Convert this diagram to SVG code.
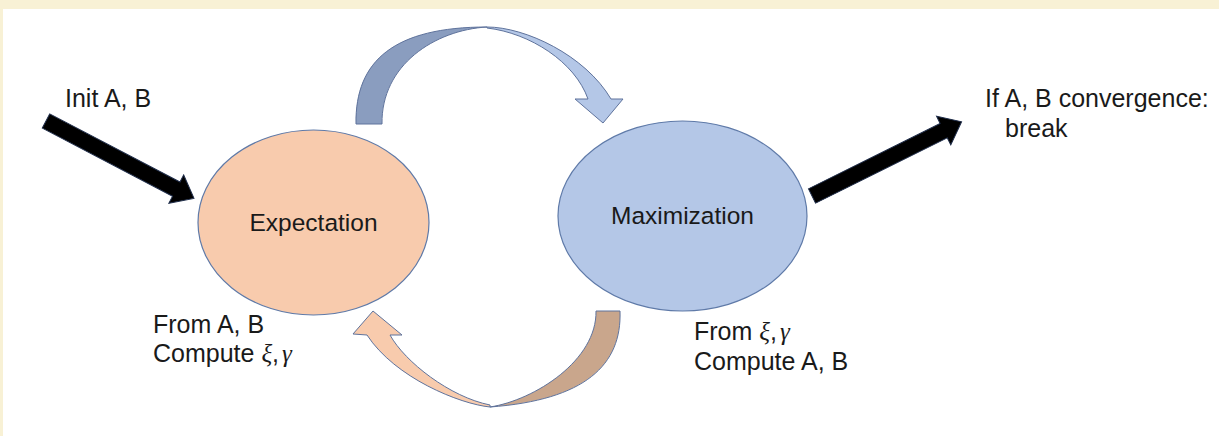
<svg xmlns="http://www.w3.org/2000/svg" width="1219" height="436" viewBox="0 0 1219 436">
  <style>
    .lbl { font-family: "Liberation Sans", Arial, sans-serif; fill: #1a1a1a; }
    .outer { font-size: 25px; }
    .inner { font-size: 24.5px; }
    .math { font-family: "Liberation Serif", "DejaVu Serif", serif; font-style: italic; }
    .node { stroke: #5f7aa8; stroke-width: 1.2; }
    .blk { fill: #000; stroke: #1f2d4a; stroke-width: 1; }
    .edge { stroke: #5f739c; stroke-width: 1; stroke-linejoin: round; }
  </style>
  <defs>
    <polygon id="thickArrow" points="0,-8 147,-8 147,-16 167,0 147,16 147,8 0,8"/>
  </defs>
  <!-- background -->
  <rect x="0" y="0" width="1219" height="436" fill="#ffffff"/>
  <rect x="0" y="0" width="1219" height="9" fill="#f8f1d5"/>
  <rect x="0" y="0" width="3" height="436" fill="#f8f1d5"/>

  <g id="connectors">
    <!-- input arrow -->
    <use href="#thickArrow" class="blk" transform="translate(46,121) rotate(27.6)"/>
    <!-- output arrow -->
    <use href="#thickArrow" class="blk" transform="translate(812,196) rotate(-26.4)"/>
    <!-- top curved arrow: Expectation -> Maximization -->
    <g id="arrow-e-to-m">
      <path class="edge" fill="#8a9dbf" d="M356,124 C355,60 395,27 487,27 C435,30 381,65 382,124 Z"/>
      <path class="edge" fill="#b4c7e7" d="M487,27 C525,27 585,55 611,99 L623,99 L603,123 L575,99 L588,99 C575,62 530,33 487,28 Z"/>
    </g>
    <!-- bottom curved arrow: Maximization -> Expectation -->
    <g id="arrow-m-to-e">
      <path class="edge" fill="#c9a68c" d="M596,311 L620,311 C622,365 585,400 490,407 C535,400 597,360 596,311 Z"/>
      <path class="edge" fill="#f8cbad" d="M490,407 C460,404 395,378 367,335 L353,334 L373,311 L402,335 L390,335 C405,362 450,397 490,405 Z"/>
    </g>
  </g>

  <g id="node-expectation">
    <ellipse class="node" cx="313.5" cy="222.5" rx="115.5" ry="92.5" fill="#f8cbad"/>
    <text class="lbl inner" x="313.5" y="230.5" text-anchor="middle">Expectation</text>
  </g>

  <g id="node-maximization">
    <ellipse class="node" cx="682.5" cy="216" rx="124.5" ry="95" fill="#b4c7e7"/>
    <text class="lbl inner" x="682.5" y="224" text-anchor="middle">Maximization</text>
  </g>

  <g id="labels">
    <text class="lbl outer" x="65" y="107">Init A, B</text>
    <text class="lbl outer" x="985" y="107">If A, B convergence:</text>
    <text class="lbl outer" x="1005" y="137">break</text>
    <text class="lbl outer" x="153" y="333">From A, B</text>
    <text class="lbl outer" x="153" y="362">Compute <tspan class="math">ξ</tspan>,<tspan class="math" dx="3">γ</tspan></text>
    <text class="lbl outer" x="694" y="340">From <tspan class="math">ξ</tspan>,<tspan class="math" dx="3">γ</tspan></text>
    <text class="lbl outer" x="694" y="370">Compute A, B</text>
  </g>
</svg>
